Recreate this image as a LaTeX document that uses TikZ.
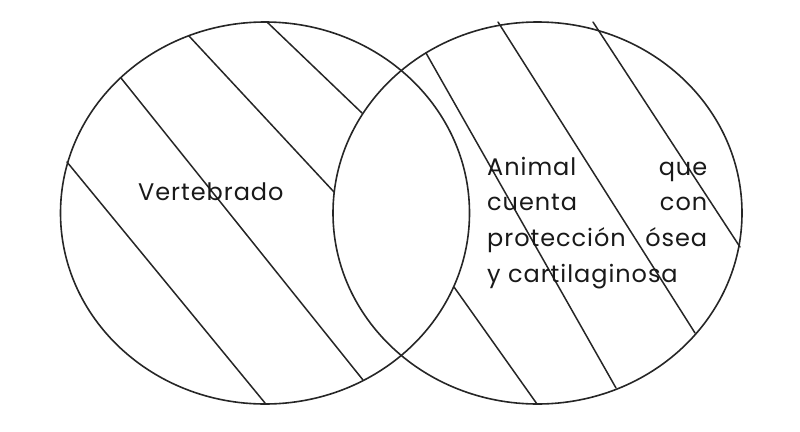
\documentclass[tikz,border=0pt]{standalone}
\usepackage{fontspec}
\setmainfont{Poppins}[LetterSpace=4]
\begin{document}
\begin{tikzpicture}[x=1pt,y=-1pt,
  ring/.style={draw=black!85,line width=1.6pt},
  hatch/.style={draw=black!85,line width=1.5pt,line cap=round},
  lbl/.style={inner sep=0pt,anchor=base west,text=black!90,font=\fontsize{24}{29}\selectfont}]
\useasboundingbox (0,0) rectangle (800,431);
% circles
\draw[ring] (265,213) ellipse [x radius=204.5pt, y radius=191pt];
\draw[ring] (537.5,213) ellipse [x radius=204.5pt, y radius=191pt];
% hatch lines, left circle
\coordinate (l1a) at (67,162);  \coordinate (l1b) at (265,403);
\coordinate (l2a) at (121,78);  \coordinate (l2b) at (363,380);
\coordinate (l3a) at (189,36);  \coordinate (l3b) at (334,192);
\coordinate (l4a) at (267,22);  \coordinate (l4b) at (362,113);
\draw[hatch] (l1a) -- (l1b);
\draw[hatch] (l2a) -- (l2b);
\draw[hatch] (l3a) -- (l3b);
\draw[hatch] (l4a) -- (l4b);
% hatch lines, right circle
\coordinate (r1a) at (426,53);  \coordinate (r1b) at (616,388);
\coordinate (r2a) at (498,22);  \coordinate (r2b) at (695,333);
\coordinate (r3a) at (593,22);  \coordinate (r3b) at (740,247);
\coordinate (r4a) at (454,287); \coordinate (r4b) at (537,404);
\draw[hatch] (r1a) -- (r1b);
\draw[hatch] (r2a) -- (r2b);
\draw[hatch] (r3a) -- (r3b);
\draw[hatch] (r4a) -- (r4b);
% texts
\node[lbl] (vert) at (138,200) {Vertebrado};
\node[lbl] (anim) at (487,175) {\vtop{\hsize=220pt\baselineskip=35.8pt\lineskiplimit=-20pt
  \hbox to\hsize{Animal\hfill que}
  \hbox to\hsize{cuenta\hfill con}
  \hbox to\hsize{protección\hfill ósea}
  \hbox{y cartilaginosa}}};
\end{tikzpicture}
\end{document}
